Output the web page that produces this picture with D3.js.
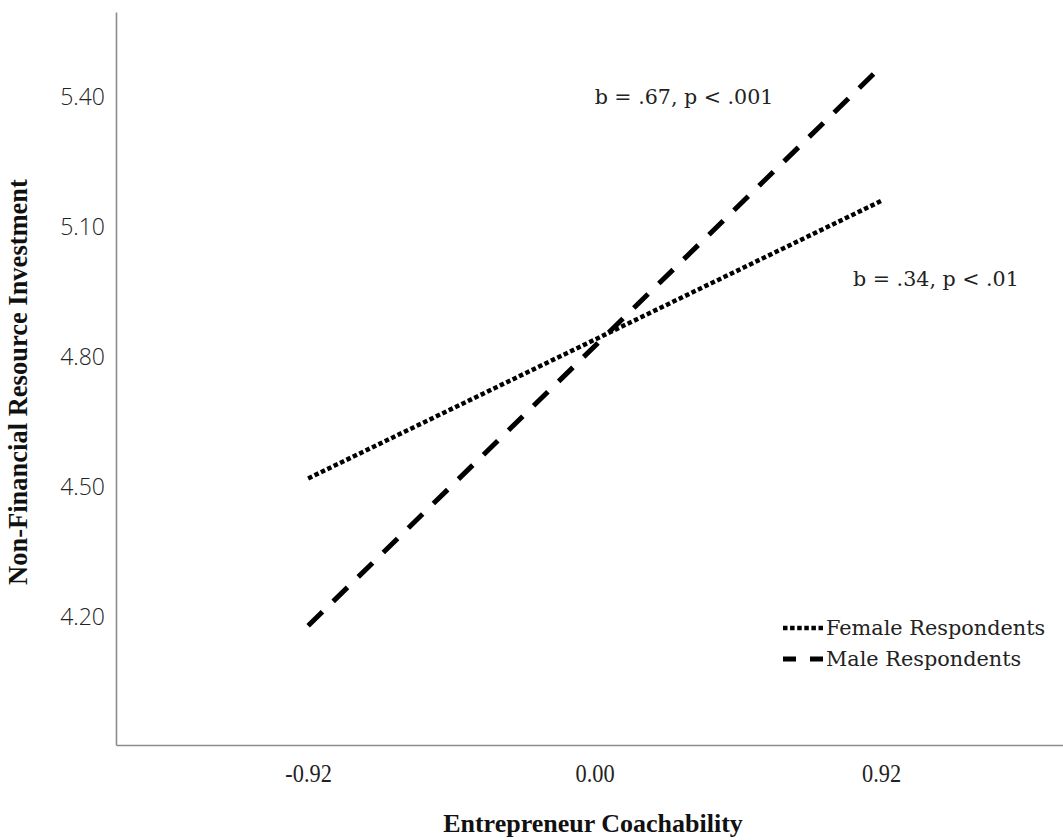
<!DOCTYPE html>
<html>
<head>
<meta charset="utf-8">
<script src="https://cdn.jsdelivr.net/npm/d3@7"></script>
<style>
  html, body { margin: 0; padding: 0; background: #fff; }
  svg { display: block; }
</style>
</head>
<body>
<svg id="chart" width="1063" height="840"></svg>
<script>
// ---- data ----
const xValues = [-0.92, 0.92];
const xTickValues = [-0.92, 0.00, 0.92];
const xTickLabels = ["-0.92", "0.00", "0.92"];
const yTickValues = [4.20, 4.50, 4.80, 5.10, 5.40];
const yTickLabels = ["4.20", "4.50", "4.80", "5.10", "5.40"];
const femaleValues = [4.52, 5.16];
const maleValues = [4.18, 5.47];
const seriesNames = ["Female Respondents", "Male Respondents"];
const annotations = [
  { text: "b = .67, p < .001", x: 0.0, y: 5.40 },
  { text: "b = .34, p < .01", x: 0.83, y: 4.98 }
];
const xTitle = "Entrepreneur Coachability";
const yTitle = "Non-Financial Resource Investment";

// ---- layout ----
const svg = d3.select("#chart");
const mLeft = 116, mRight = 1063, mTop = 12, mBottom = 745;

const x = d3.scaleLinear().domain([-1.537, 1.504]).range([mLeft, mRight]);
const y = d3.scaleLinear().domain([3.905, 5.596]).range([mBottom, mTop]);

// axes
const xAxis = d3.axisBottom(x).tickValues(xTickValues)
  .tickFormat((d, i) => xTickLabels[i]).tickSize(0).tickPadding(19);
const gx = svg.append("g").attr("transform", `translate(0,${mBottom})`).call(xAxis);
gx.attr("font-size", null).attr("font-family", null);
gx.select(".domain").attr("stroke", "#8c8c8c").attr("stroke-width", 1.6);
gx.selectAll("text").style("font-family", "'Liberation Serif', serif")
  .style("font-size", "26px").attr("fill", "#222")
  .attr("transform", "scale(0.86,1)");

const yAxis = d3.axisLeft(y).tickValues(yTickValues)
  .tickFormat((d, i) => yTickLabels[i]).tickSize(0).tickPadding(11);
const gy = svg.append("g").attr("transform", `translate(${mLeft},0)`).call(yAxis);
gy.attr("font-size", null).attr("font-family", null);
gy.select(".domain").attr("stroke", "#8c8c8c").attr("stroke-width", 1.6);
gy.selectAll("text").style("font-family", "'Open Sans', 'DejaVu Sans', sans-serif")
  .style("font-size", "23px").style("font-weight", "300").attr("fill", "#222");

// lines
const line = d3.line().x((d, i) => x(xValues[i])).y(d => y(d));
svg.append("path").datum(femaleValues).attr("d", line)
  .attr("fill", "none").attr("stroke", "#000").attr("stroke-width", 4.5)
  .attr("stroke-dasharray", "4.5 2.6");
svg.append("path").datum(maleValues).attr("d", line)
  .attr("fill", "none").attr("stroke", "#000").attr("stroke-width", 5)
  .attr("stroke-dasharray", "20 15");

// annotations
svg.selectAll("text.annot").data(annotations).enter().append("text")
  .attr("class", "annot")
  .attr("x", d => x(d.x)).attr("y", d => y(d.y))
  .attr("dy", "0.35em")
  .style("font-family", "'DejaVu Serif', serif").style("font-size", "20.6px")
  .attr("fill", "#222").text(d => d.text);

// legend
const legend = svg.append("g").attr("transform", "translate(783,628)");
const legendStyles = [
  { dash: "4.5 2.6", w: 4.5 },
  { dash: "13 14", w: 5 }
];
seriesNames.forEach((name, i) => {
  const g = legend.append("g").attr("transform", `translate(0,${i * 31})`);
  g.append("line").attr("x1", 0).attr("x2", 40).attr("y1", 0).attr("y2", 0)
    .attr("stroke", "#000").attr("stroke-width", legendStyles[i].w)
    .attr("stroke-dasharray", legendStyles[i].dash);
  g.append("text").attr("x", 43).attr("y", 0).attr("dy", "0.35em")
    .style("font-family", "'DejaVu Serif', serif").style("font-size", "20.8px")
    .attr("fill", "#222").text(name);
});

// axis titles
svg.append("text").attr("x", 593).attr("y", 832)
  .attr("text-anchor", "middle")
  .style("font-family", "'Liberation Serif', serif").style("font-weight", "bold")
  .style("font-size", "26px").attr("fill", "#111").text(xTitle);
svg.append("text")
  .attr("transform", "translate(27,382) rotate(-90)")
  .attr("text-anchor", "middle")
  .style("font-family", "'Liberation Serif', serif").style("font-weight", "bold")
  .style("font-size", "26.5px").attr("fill", "#111").text(yTitle);
</script>
</body>
</html>
